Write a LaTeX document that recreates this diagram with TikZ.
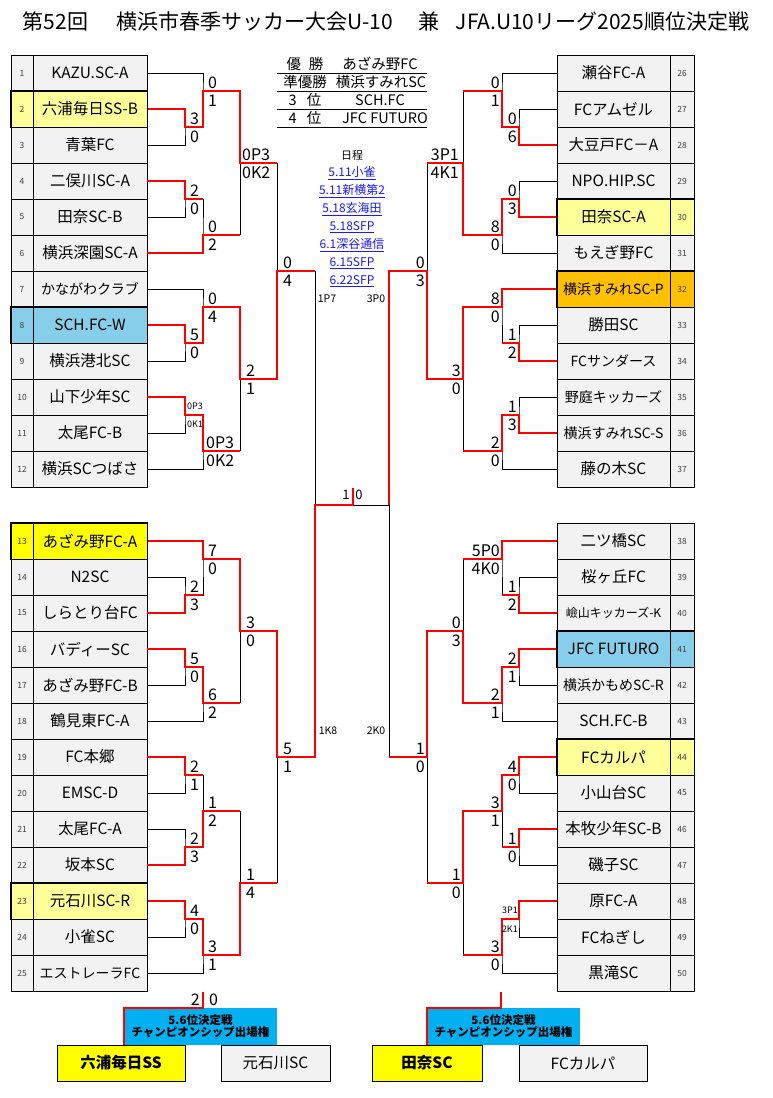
\documentclass[tikz,border=0pt]{standalone}
\usepackage{fontspec}
\setmainfont{Noto Sans CJK JP}
\definecolor{cellgray}{HTML}{F2F2F2}
\definecolor{paleyel}{HTML}{FFFF99}
\definecolor{brightyel}{HTML}{FFFF00}
\definecolor{skyb}{HTML}{87CEEB}
\definecolor{orng}{HTML}{FFC000}
\definecolor{boxblue}{HTML}{00B0F0}
\definecolor{linkblue}{HTML}{1A1AFF}
\definecolor{numgray}{HTML}{404040}
\begin{document}
\begin{tikzpicture} [
  x=1pt, y=-1pt,
  every node/.style= {inner sep=0pt},
  cell/.style= {draw, line width=0.8pt, fill=cellgray, minimum height=36pt},
  team/.style= {cell, minimum width=114pt, font=\fontsize{15.5}{15.5}\selectfont},
  teamr/.style= {cell, minimum width=113pt, font=\fontsize{15.5}{15.5}\selectfont},
  namemd/.style= {font=\fontsize{14}{14}\selectfont},
  namesm/.style= {font=\fontsize{12}{12}\selectfont},
  num/.style= {cell, minimum width=22pt, text=numgray, font=\fontsize{8.5}{8.5}\selectfont},
  numr/.style= {cell, minimum width=24pt, text=numgray, font=\fontsize{8.5}{8.5}\selectfont},
  hl/.style= {draw, line width=1.8pt},
  wire/.style= {line width=0.8pt},
  win/.style= {red, line width=2.2pt},
  sl/.style= {anchor=west, font=\fontsize{16}{16}\selectfont},
  sr/.style= {anchor=east, font=\fontsize{16}{16}\selectfont},
  ssm/.style= {font=\fontsize{9}{9}\selectfont},
  pk/.style= {font=\fontsize{10.5}{10.5}\selectfont},
  info/.style= {font=\fontsize{14.5}{14.5}\selectfont},
  sched/.style= {text=linkblue, font=\fontsize{12}{12}\selectfont},
  bluebox/.style= {fill=boxblue, minimum width=153pt, minimum height=37pt, align=center, font=\bfseries\fontsize{11.5}{11}\selectfont},
  endbox/.style= {draw, line width=0.8pt, minimum height=36pt, font=\fontsize{15.5}{15.5}\selectfont},
]
\fill[white] (0,0) rectangle (772,1098);
\useasboundingbox (0,0) rectangle (772,1098);

\node (title) at (386,22) {\fontsize{21}{21}\selectfont 第52回\hspace{28pt}横浜市春季サッカー大会U-10\hspace{26pt}兼\hspace{16pt}JFA.U10リーグ2025順位決定戦};

% left side teams
\node[num] (n1) at (22,73) {1};   \node[team] (t1) at (90,73) {KAZU.SC-A};
\node[num, fill=paleyel] (n2) at (22,109) {2};  \node[team, fill=paleyel] (t2) at (90,109) {六浦毎日SS-B};
\node[num] (n3) at (22,145) {3};  \node[team] (t3) at (90,145) {青葉FC};
\node[num] (n4) at (22,181) {4};  \node[team] (t4) at (90,181) {二俣川SC-A};
\node[num] (n5) at (22,217) {5};  \node[team] (t5) at (90,217) {田奈SC-B};
\node[num] (n6) at (22,253) {6};  \node[team] (t6) at (90,253) {横浜深園SC-A};
\node[num] (n7) at (22,289) {7};  \node[team, namemd] (t7) at (90,289) {かながわクラブ};
\node[num, fill=skyb] (n8) at (22,325) {8};  \node[team, fill=skyb] (t8) at (90,325) {SCH.FC-W};
\node[num] (n9) at (22,361) {9};  \node[team] (t9) at (90,361) {横浜港北SC};
\node[num] (n10) at (22,397) {10}; \node[team] (t10) at (90,397) {山下少年SC};
\node[num] (n11) at (22,433) {11}; \node[team] (t11) at (90,433) {太尾FC-B};
\node[num] (n12) at (22,469) {12}; \node[team] (t12) at (90,469) {横浜SCつばさ};
\node[num, fill=brightyel] (n13) at (22,541) {13}; \node[team, fill=brightyel] (t13) at (90,541) {あざみ野FC-A};
\node[num] (n14) at (22,577) {14}; \node[team] (t14) at (90,577) {N2SC};
\node[num] (n15) at (22,613) {15}; \node[team] (t15) at (90,613) {しらとり台FC};
\node[num] (n16) at (22,649) {16}; \node[team] (t16) at (90,649) {バディーSC};
\node[num] (n17) at (22,685) {17}; \node[team] (t17) at (90,685) {あざみ野FC-B};
\node[num] (n18) at (22,721) {18}; \node[team] (t18) at (90,721) {鶴見東FC-A};
\node[num] (n19) at (22,757) {19}; \node[team] (t19) at (90,757) {FC本郷};
\node[num] (n20) at (22,793) {20}; \node[team] (t20) at (90,793) {EMSC-D};
\node[num] (n21) at (22,829) {21}; \node[team] (t21) at (90,829) {太尾FC-A};
\node[num] (n22) at (22,865) {22}; \node[team] (t22) at (90,865) {坂本SC};
\node[num, fill=paleyel] (n23) at (22,901) {23}; \node[team, fill=paleyel] (t23) at (90,901) {元石川SC-R};
\node[num] (n24) at (22,937) {24}; \node[team] (t24) at (90,937) {小雀SC};
\node[num] (n25) at (22,973) {25}; \node[team, namemd] (t25) at (90,973) {エストレーラFC};

% right side teams
\node[teamr] (t26) at (613.5,73) {瀬谷FC-A};        \node[numr] (n26) at (682,73) {26};
\node[teamr] (t27) at (613.5,109) {FCアムゼル};     \node[numr] (n27) at (682,109) {27};
\node[teamr] (t28) at (613.5,145) {大豆戸FC－A};    \node[numr] (n28) at (682,145) {28};
\node[teamr] (t29) at (613.5,181) {NPO.HIP.SC};     \node[numr] (n29) at (682,181) {29};
\node[teamr, fill=paleyel] (t30) at (613.5,217) {田奈SC-A}; \node[numr, fill=paleyel] (n30) at (682,217) {30};
\node[teamr] (t31) at (613.5,253) {もえぎ野FC};     \node[numr] (n31) at (682,253) {31};
\node[teamr, fill=orng, namemd] (t32) at (613.5,289) {横浜すみれSC-P}; \node[numr, fill=orng] (n32) at (682,289) {32};
\node[teamr] (t33) at (613.5,325) {勝田SC};         \node[numr] (n33) at (682,325) {33};
\node[teamr, namemd] (t34) at (613.5,361) {FCサンダース};  \node[numr] (n34) at (682,361) {34};
\node[teamr, namemd] (t35) at (613.5,397) {野庭キッカーズ}; \node[numr] (n35) at (682,397) {35};
\node[teamr, namemd] (t36) at (613.5,433) {横浜すみれSC-S}; \node[numr] (n36) at (682,433) {36};
\node[teamr] (t37) at (613.5,469) {藤の木SC};       \node[numr] (n37) at (682,469) {37};
\node[teamr] (t38) at (613.5,541) {二ツ橋SC};       \node[numr] (n38) at (682,541) {38};
\node[teamr] (t39) at (613.5,577) {桜ヶ丘FC};       \node[numr] (n39) at (682,577) {39};
\node[teamr, namesm] (t40) at (613.5,613) {嶮山キッカーズ-K}; \node[numr] (n40) at (682,613) {40};
\node[teamr, fill=skyb] (t41) at (613.5,649) {JFC FUTURO}; \node[numr, fill=skyb] (n41) at (682,649) {41};
\node[teamr, namemd] (t42) at (613.5,685) {横浜かもめSC-R}; \node[numr] (n42) at (682,685) {42};
\node[teamr] (t43) at (613.5,721) {SCH.FC-B};       \node[numr] (n43) at (682,721) {43};
\node[teamr, fill=paleyel] (t44) at (613.5,757) {FCカルパ}; \node[numr, fill=paleyel] (n44) at (682,757) {44};
\node[teamr] (t45) at (613.5,793) {小山台SC};       \node[numr] (n45) at (682,793) {45};
\node[teamr] (t46) at (613.5,829) {本牧少年SC-B};   \node[numr] (n46) at (682,829) {46};
\node[teamr] (t47) at (613.5,865) {磯子SC};         \node[numr] (n47) at (682,865) {47};
\node[teamr] (t48) at (613.5,901) {原FC-A};         \node[numr] (n48) at (682,901) {48};
\node[teamr] (t49) at (613.5,937) {FCねぎし};       \node[numr] (n49) at (682,937) {49};
\node[teamr] (t50) at (613.5,973) {黒滝SC};         \node[numr] (n50) at (682,973) {50};

% bracket lines, left
\draw[wire] (t2.east) -| (185,127) |- (t3.east) (185,127) -- (203,127);
\draw[wire] (t1.east) -| (203,91) |- (185,127) (203,91) -- (240,91);
\draw[wire] (t4.east) -| (185,199) |- (t5.east) (185,199) -- (203,199);
\draw[wire] (185,199) -| (203,235) |- (t6.east) (203,235) -- (240,235);
\draw[wire] (240,91) -- (240,235) (240,163) -- (277,163);
\draw[wire] (t8.east) -| (185,343) |- (t9.east) (185,343) -- (203,343);
\draw[wire] (t7.east) -| (203,307) |- (185,343) (203,307) -- (240,307);
\draw[wire] (t10.east) -| (185,415) |- (t11.east) (185,415) -- (203,415);
\draw[wire] (185,415) -| (203,451) |- (t12.east) (203,451) -- (240,451);
\draw[wire] (240,307) -- (240,451) (240,379) -- (277,379);
\draw[wire] (277,163) -- (277,379) (277,271) -- (315,271);
\draw[wire] (t14.east) -| (185,595) |- (t15.east) (185,595) -- (203,595);
\draw[wire] (t13.east) -| (203,559) |- (185,595) (203,559) -- (240,559);
\draw[wire] (t16.east) -| (185,667) |- (t17.east) (185,667) -- (203,667);
\draw[wire] (185,667) -| (203,703) |- (t18.east) (203,703) -- (240,703);
\draw[wire] (240,559) -- (240,703) (240,631) -- (277,631);
\draw[wire] (t19.east) -| (185,775) |- (t20.east) (185,775) -- (203,775);
\draw[wire] (t21.east) -| (185,847) |- (t22.east) (185,847) -- (203,847);
\draw[wire] (203,775) -- (203,847) (203,811) -- (240,811);
\draw[wire] (t23.east) -| (185,919) |- (t24.east) (185,919) -- (203,919);
\draw[wire] (185,919) -| (203,955) |- (t25.east) (203,955) -- (240,955);
\draw[wire] (240,811) -- (240,955) (240,883) -- (277,883);
\draw[wire] (277,631) -- (277,883) (277,757) -- (315,757);
\draw[wire] (315,271) -- (315,757) (315,505) -- (389,505) (389,271) -- (389,757);

% bracket lines, right
\draw[wire] (t27.west) -| (519,127) |- (t28.west) (519,127) -- (502,127);
\draw[wire] (t26.west) -| (502,91) |- (519,127) (502,91) -- (463,91);
\draw[wire] (t29.west) -| (519,199) |- (t30.west) (519,199) -- (502,199);
\draw[wire] (519,199) -| (502,235) |- (t31.west) (502,235) -- (463,235);
\draw[wire] (463,91) -- (463,235) (463,163) -- (427,163);
\draw[wire] (t33.west) -| (519,343) |- (t34.west) (519,343) -- (502,343);
\draw[wire] (t32.west) -| (502,307) |- (519,343) (502,307) -- (463,307);
\draw[wire] (t35.west) -| (519,415) |- (t36.west) (519,415) -- (502,415);
\draw[wire] (519,415) -| (502,451) |- (t37.west) (502,451) -- (463,451);
\draw[wire] (463,307) -- (463,451) (463,379) -- (427,379);
\draw[wire] (427,163) -- (427,379) (427,271) -- (389,271);
\draw[wire] (t39.west) -| (519,595) |- (t40.west) (519,595) -- (502,595);
\draw[wire] (t38.west) -| (502,559) |- (519,595) (502,559) -- (463,559);
\draw[wire] (t41.west) -| (519,667) |- (t42.west) (519,667) -- (502,667);
\draw[wire] (519,667) -| (502,703) |- (t43.west) (502,703) -- (463,703);
\draw[wire] (463,559) -- (463,703) (463,631) -- (427,631);
\draw[wire] (t44.west) -| (519,775) |- (t45.west) (519,775) -- (502,775);
\draw[wire] (t46.west) -| (519,847) |- (t47.west) (519,847) -- (502,847);
\draw[wire] (502,775) -- (502,847) (502,811) -- (463,811);
\draw[wire] (t48.west) -| (519,919) |- (t49.west) (519,919) -- (502,919);
\draw[wire] (519,919) -| (502,955) |- (t50.west) (502,955) -- (463,955);
\draw[wire] (463,811) -- (463,955) (463,883) -- (427,883);
\draw[wire] (427,631) -- (427,883) (427,757) -- (389,757);

% winners
\draw[win] (t2.east) -| (185,127) -- (203,127) |- (240,91) |- (277,163);
\draw[win] (t4.east) -| (185,199) -- (203,199);
\draw[win] (t6.east) -| (203,235) -- (240,235);
\draw[win] (t8.east) -| (185,343) -- (203,343) |- (240,307) |- (277,379) |- (315,271);
\draw[win] (t10.east) -| (185,415) -- (203,415) |- (240,451);
\draw[win] (t13.east) -| (203,559) -- (240,559) |- (277,631) |- (315,757) |- (353,505) -- (353,488);
\draw[win] (t15.east) -| (185,595) -- (203,595);
\draw[win] (t16.east) -| (185,667) -- (203,667) |- (240,703);
\draw[win] (t19.east) -| (185,775) -- (203,775);
\draw[win] (t22.east) -| (185,847) -- (203,847) |- (240,811);
\draw[win] (t23.east) -| (185,919) -- (203,919) |- (240,955) |- (277,883);
\draw[win] (t28.west) -| (519,127) -- (502,127) |- (463,91);
\draw[win] (t30.west) -| (519,199) -- (502,199) |- (463,235) |- (427,163);
\draw[win] (t32.west) -| (502,307) -- (463,307) |- (427,379) |- (389,271) -- (389,505);
\draw[win] (t34.west) -| (519,343) -- (502,343);
\draw[win] (t36.west) -| (519,415) -- (502,415) |- (463,451);
\draw[win] (t38.west) -| (502,559) -- (463,559);
\draw[win] (t40.west) -| (519,595) -- (502,595);
\draw[win] (t41.west) -| (519,667) -- (502,667) |- (463,703) |- (427,631) |- (389,757);
\draw[win] (t44.west) -| (519,775) -- (502,775) |- (463,811) |- (427,883);
\draw[win] (t46.west) -| (519,847) -- (502,847);
\draw[win] (t48.west) -| (519,919) -- (502,919) |- (463,955);

% highlighted frames
\draw[hl] (n2.north west) rectangle (t2.south east) (n2.north east) -- (n2.south east);
\draw[hl] (n8.north west) rectangle (t8.south east) (n8.north east) -- (n8.south east);
\draw[hl] (n13.north west) rectangle (t13.south east) (n13.north east) -- (n13.south east);
\draw[hl] (n23.north west) rectangle (t23.south east) (n23.north east) -- (n23.south east);
\draw[hl] (t30.north west) rectangle (n30.south east) (t30.north east) -- (t30.south east);
\draw[hl] (t32.north west) rectangle (n32.south east) (t32.north east) -- (t32.south east);
\draw[hl] (t41.north west) rectangle (n41.south east) (t41.north east) -- (t41.south east);
\draw[hl] (t44.north west) rectangle (n44.south east) (t44.north east) -- (t44.south east);

% scores, left
\node[sl] (a1) at (190,119) {3};    \node[sl] (b1) at (190,137) {0};
\node[sl] (a2) at (208,83) {0};     \node[sl] (b2) at (208,101) {1};
\node[sl] (a3) at (190,191) {2};    \node[sl] (b3) at (190,209) {0};
\node[sl] (a4) at (208,227) {0};    \node[sl] (b4) at (208,245) {2};
\node[sl] (a5) at (242,155) {0P3};  \node[sl] (b5) at (242,173) {0K2};
\node[sl] (a6) at (190,335) {5};    \node[sl] (b6) at (190,353) {0};
\node[sl] (a7) at (208,299) {0};    \node[sl] (b7) at (208,317) {4};
\node[sl, ssm] (a8) at (187,406) {0P3}; \node[sl, ssm] (b8) at (187,424) {0K1};
\node[sl] (a9) at (206,443) {0P3};  \node[sl] (b9) at (206,461) {0K2};
\node[sl] (a10) at (246,371) {2};   \node[sl] (b10) at (246,389) {1};
\node[sl] (a11) at (283,263) {0};   \node[sl] (b11) at (283,281) {4};
\node[sl] (a12) at (190,587) {2};   \node[sl] (b12) at (190,605) {3};
\node[sl] (a13) at (208,551) {7};   \node[sl] (b13) at (208,569) {0};
\node[sl] (a14) at (190,659) {5};   \node[sl] (b14) at (190,677) {0};
\node[sl] (a15) at (208,695) {6};   \node[sl] (b15) at (208,713) {2};
\node[sl] (a16) at (246,623) {3};   \node[sl] (b16) at (246,641) {0};
\node[sl] (a17) at (190,767) {2};   \node[sl] (b17) at (190,785) {1};
\node[sl] (a18) at (190,839) {2};   \node[sl] (b18) at (190,857) {3};
\node[sl] (a19) at (208,803) {1};   \node[sl] (b19) at (208,821) {2};
\node[sl] (a20) at (190,911) {4};   \node[sl] (b20) at (190,929) {0};
\node[sl] (a21) at (208,947) {3};   \node[sl] (b21) at (208,965) {1};
\node[sl] (a22) at (246,875) {1};   \node[sl] (b22) at (246,893) {4};
\node[sl] (a23) at (283,749) {5};   \node[sl] (b23) at (283,767) {1};

% scores, right
\node[sr] (c1) at (517,119) {0};    \node[sr] (d1) at (517,137) {6};
\node[sr] (c2) at (500,83) {0};     \node[sr] (d2) at (500,101) {1};
\node[sr] (c3) at (517,191) {0};    \node[sr] (d3) at (517,209) {3};
\node[sr] (c4) at (500,227) {8};    \node[sr] (d4) at (500,245) {0};
\node[sr] (c5) at (459,155) {3P1};  \node[sr] (d5) at (459,173) {4K1};
\node[sr] (c6) at (517,335) {1};    \node[sr] (d6) at (517,353) {2};
\node[sr] (c7) at (500,299) {8};    \node[sr] (d7) at (500,317) {0};
\node[sr] (c8) at (517,407) {1};    \node[sr] (d8) at (517,425) {3};
\node[sr] (c9) at (500,443) {2};    \node[sr] (d9) at (500,461) {0};
\node[sr] (c10) at (461,371) {3};   \node[sr] (d10) at (461,389) {0};
\node[sr] (c11) at (425,263) {0};   \node[sr] (d11) at (425,281) {3};
\node[sr] (c12) at (517,587) {1};   \node[sr] (d12) at (517,605) {2};
\node[sr] (c13) at (500,551) {5P0}; \node[sr] (d13) at (500,569) {4K0};
\node[sr] (c14) at (517,659) {2};   \node[sr] (d14) at (517,677) {1};
\node[sr] (c15) at (500,695) {2};   \node[sr] (d15) at (500,713) {1};
\node[sr] (c16) at (461,623) {0};   \node[sr] (d16) at (461,641) {3};
\node[sr] (c17) at (517,767) {4};   \node[sr] (d17) at (517,785) {0};
\node[sr] (c18) at (517,839) {1};   \node[sr] (d18) at (517,857) {0};
\node[sr] (c19) at (500,803) {3};   \node[sr] (d19) at (500,821) {1};
\node[sr, ssm] (c20) at (518,910) {3P1}; \node[sr, ssm] (d20) at (518,929) {2K1};
\node[sr] (c21) at (500,947) {3};   \node[sr] (d21) at (500,965) {0};
\node[sr] (c22) at (461,875) {1};   \node[sr] (d22) at (461,893) {0};
\node[sr] (c23) at (425,749) {1};   \node[sr] (d23) at (425,767) {0};

% semifinals and final
\node[pk] (pkl1) at (327,299) {1P7};  \node[pk] (pkr1) at (376,299) {3P0};
\node[pk] (pkl2) at (328,731) {1K8};  \node[pk] (pkr2) at (376,731) {2K0};
\node[font=\fontsize{13}{13}\selectfont] (fl) at (346,495) {1};
\node[font=\fontsize{13}{13}\selectfont] (fr) at (359,495) {0};

% ranking
\draw[wire] (277,73) -- (427,73) (277,91.5) -- (427,91.5) (277,109) -- (427,109) (277,127) -- (427,127);
\node[info] (r1) at (305,64) {優\hspace{8pt}勝};   \node[info] (w1) at (380,64) {あざみ野FC};
\node[info] (r2) at (305,82) {準優勝};            \node[info] (w2) at (381,82) {横浜すみれSC};
\node[info] (r3) at (305,100) {3\hspace{10pt}位}; \node[info] (w3) at (380,100) {SCH.FC};
\node[info] (r4) at (305,118) {4\hspace{10pt}位}; \node[info] (w4) at (385,118) {JFC FUTURO};

% schedule
\node[font=\fontsize{11}{11}\selectfont] (nittei) at (352,155) {日程};
\node[sched] (d511a) at (352,173) {\underline{5.11小雀}};
\node[sched] (d511b) at (352,191) {\underline{5.11新横第2}};
\node[sched] (d518a) at (352,209) {\underline{5.18玄海田}};
\node[sched] (d518b) at (352,227) {\underline{5.18SFP}};
\node[sched] (d61) at (352,245) {\underline{6.1深谷通信}};
\node[sched] (d615) at (352,263) {\underline{6.15SFP}};
\node[sched] (d622) at (352,281) {\underline{6.22SFP}};

% 5th/6th place
\coordinate (l56) at (203,992);
\coordinate (r56) at (501,992);
\node[bluebox] (bl) at (200.5,1026.5) {5.6位決定戦\\チャンピオンシップ出場権};
\node[bluebox] (br) at (503.5,1026.5) {5.6位決定戦\\チャンピオンシップ出場権};
\node[endbox, fill=brightyel, minimum width=128pt, font=\bfseries\fontsize{15.5}{15.5}\selectfont] (e1) at (121,1063) {六浦毎日SS};
\node[endbox, fill=cellgray, minimum width=109pt] (e2) at (275.5,1063) {元石川SC};
\node[endbox, fill=brightyel, minimum width=110pt, font=\bfseries\fontsize{15.5}{15.5}\selectfont] (e3) at (427,1063) {田奈SC};
\node[endbox, fill=cellgray, minimum width=128pt] (e4) at (583,1063) {FCカルパ};
\draw[win] (l56) |- (bl.north west) -- (bl.south west);
\draw[win] (r56) |- (br.north west) -- (br.south west);
\node[sr] (g1) at (200,1000) {2};  \node[sl] (g2) at (209,1000) {0};

\end{tikzpicture}
\end{document}
